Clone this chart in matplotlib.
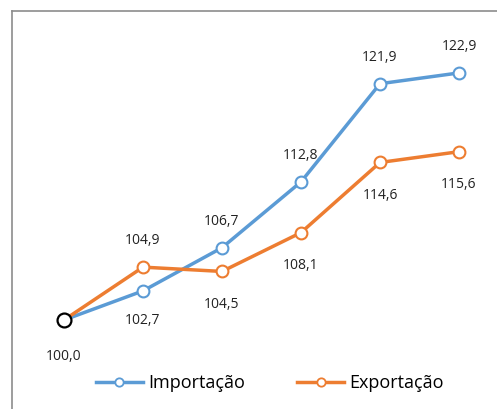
import matplotlib.pyplot as plt
from matplotlib.lines import Line2D

# values (index, base = 100)
periods = [0, 1, 2, 3, 4, 5]
importacao = [100.0, 102.7, 106.7, 112.8, 121.9, 122.9]
exportacao = [100.0, 104.9, 104.5, 108.1, 114.6, 115.6]
# label placement: +1 above the point, -1 below
imp_pos = [0, -1, 1, 1, 1, 1]
exp_pos = [-1, 1, -1, -1, -1, -1]

blue = '#5B9BD5'
orange = '#ED7D31'
plt.rcParams['font.family'] = ['Open Sans', 'DejaVu Sans']

W, H = 497, 409
fig = plt.figure(figsize=(W / 100, H / 100), dpi=100)
ax = fig.add_axes([0, 0, 1, 1])
ax.set_axis_off()

# map data to pixels: x=0 -> 64px, 79px per step; y=100 -> 320px, 10.79px per unit
px_x, px_y = 79.0, 10.79
ax.set_xlim(-64 / px_x, 5 + (W - 64 - 5 * px_x) / px_x)
ax.set_ylim(100 - (H - 320) / px_y, 100 + 320 / px_y)

ax.plot(periods, importacao, color=blue, lw=2.5, marker='o', ms=8.5,
        mfc='white', mec=blue, mew=1.5, zorder=3)
ax.plot(periods, exportacao, color=orange, lw=2.5, marker='o', ms=8.5,
        mfc='white', mec=orange, mew=1.5, zorder=3)
# base point
ax.plot(periods[0], importacao[0], marker='o', ms=10, mfc='white',
        mec='black', mew=1.6, zorder=4)

def fmt(v):
    return f"{v:.1f}".replace('.', ',')

for x, v, p in zip(periods, importacao, imp_pos):
    if p == 0:
        continue
    off = 26 if p > 0 else -30
    ax.annotate(fmt(v), (x, v), xytext=(0, off), textcoords='offset pixels',
                ha='center', va='center', fontsize=10, color='#222222')
for x, v, p in zip(periods, exportacao, exp_pos):
    off = 27 if p > 0 else -33
    if x == 0:
        off = -36
    ax.annotate(fmt(v), (x, v), xytext=(0, off), textcoords='offset pixels',
                ha='center', va='center', fontsize=10, color='#222222')

# chart frame (cropped at right and bottom)
frame_col = '#8c8c8c'
fig.add_artist(Line2D([12 / W, 1], [1 - 11 / H, 1 - 11 / H], color=frame_col, lw=1.2))
fig.add_artist(Line2D([12 / W, 12 / W], [0, 1 - 11 / H], color=frame_col, lw=1.2))

handles = [Line2D([], [], color=blue, lw=2.5, marker='o', ms=6, mfc='white', mec=blue, mew=1.3),
           Line2D([], [], color=orange, lw=2.5, marker='o', ms=6, mfc='white', mec=orange, mew=1.3)]
fig.legend(handles, ['Importação', 'Exportação'], loc='center',
           bbox_to_anchor=(270 / W, 1 - 383 / H), ncol=2, frameon=False,
           fontsize=13, handlelength=2.6, columnspacing=2.9, handletextpad=0.3,
           borderpad=0, borderaxespad=0)

fig.savefig('out.png', dpi=100)
